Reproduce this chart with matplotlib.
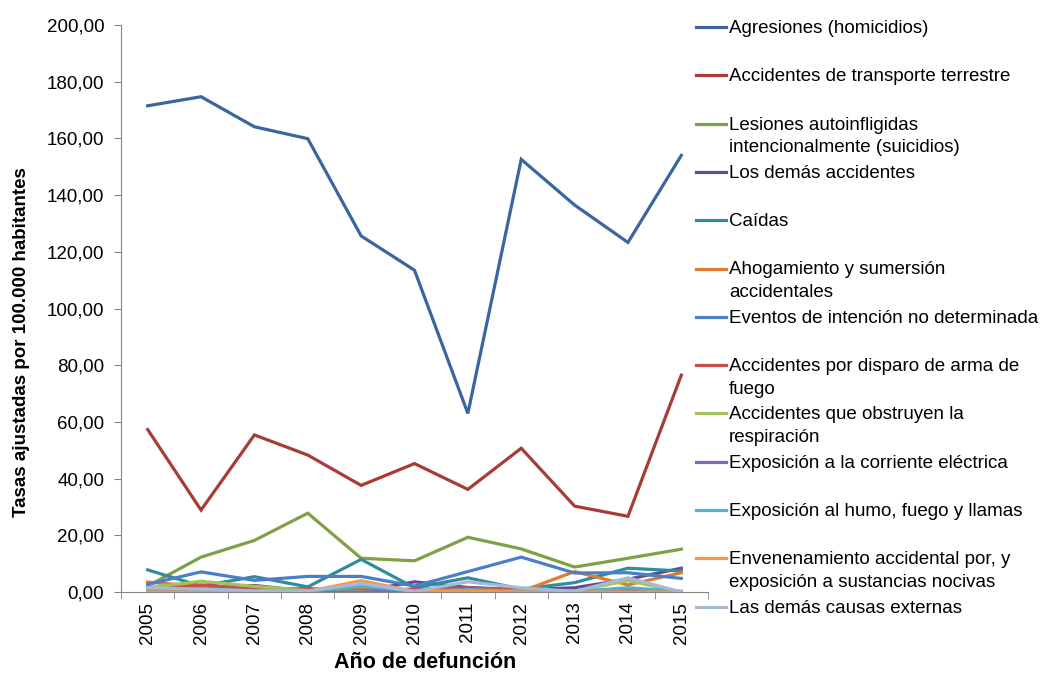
import matplotlib.pyplot as plt
import numpy as np
from matplotlib.lines import Line2D

years = ["2005", "2006", "2007", "2008", "2009", "2010", "2011", "2012", "2013", "2014", "2015"]

agresiones = [171.5, 174.7, 164.1, 159.9, 125.6, 113.5, 63.0, 152.6, 136.5, 123.3, 154.0]
transporte = [57.3, 28.9, 55.4, 48.3, 37.6, 45.3, 36.2, 50.7, 30.3, 26.7, 76.5]
suicidios = [2.1, 12.3, 18.2, 27.8, 11.9, 11.0, 19.3, 15.2, 8.8, 11.9, 15.1]
demas_acc = [1.5, 1.5, 2.3, 0.3, 0.2, 3.6, 1.6, 0.8, 1.5, 4.5, 8.4]
caidas = [7.8, 2.1, 5.4, 1.8, 11.5, 1.5, 5.0, 1.0, 3.3, 8.4, 7.4]
ahogamiento = [3.5, 2.0, 1.5, 0.5, 1.0, 0.3, 1.2, 0.2, 7.2, 2.5, 6.8]
eventos = [2.7, 7.1, 4.1, 5.5, 5.5, 2.1, 7.2, 12.3, 6.7, 6.8, 4.8]
disparo = [0.5, 2.5, 1.0, 1.2, 0.5, 1.0, 1.5, 0.6, 0.3, 0.5, 0.2]
obstruyen = [1.5, 3.8, 2.0, 0.5, 0.2, 0.0, 0.5, 0.5, 0.3, 4.0, 0.0]
corriente = [0.8, 0.5, 0.3, 0.0, 0.0, 0.5, 0.6, 0.3, 0.1, 0.4, 0.0]
humo = [0.6, 1.0, 0.4, 0.3, 2.0, 0.3, 0.8, 0.4, 0.2, 1.5, 0.2]
envenenamiento = [0.0, 0.0, 0.0, 0.2, 4.0, 0.2, 0.3, 0.0, 0.0, 0.0, 0.0]
las_demas = [1.5, 1.0, 0.4, 0.3, 3.0, 0.2, 3.6, 1.5, 0.2, 5.0, 0.0]

labels = [
    "Agresiones (homicidios)",
    "Accidentes de transporte terrestre",
    "Lesiones autoinfligidas\nintencionalmente (suicidios)",
    "Los demás accidentes",
    "Caídas",
    "Ahogamiento y sumersión\naccidentales",
    "Eventos de intención no determinada",
    "Accidentes por disparo de arma de\nfuego",
    "Accidentes que obstruyen la\nrespiración",
    "Exposición a la corriente eléctrica",
    "Exposición al humo, fuego y llamas",
    "Envenenamiento accidental por, y\nexposición a sustancias nocivas",
    "Las demás causas externas",
]
series = [agresiones, transporte, suicidios, demas_acc, caidas, ahogamiento,
          eventos, disparo, obstruyen, corriente, humo, envenenamiento, las_demas]
colors = ["#3A66A0", "#A83B38", "#80A046", "#614C8A", "#2F8CA0", "#E07B30",
          "#4A7FC8", "#C8504C", "#A2C35A", "#8468AB", "#4DB3CE", "#F99645", "#A6BAD8"]

yticks = [0, 20, 40, 60, 80, 100, 120, 140, 160, 180, 200]
ytick_labels = ["0,00", "20,00", "40,00", "60,00", "80,00", "100,00",
                "120,00", "140,00", "160,00", "180,00", "200,00"]

plt.rcParams["font.family"] = ["Liberation Sans", "DejaVu Sans"]

W, H = 1043, 675
fig = plt.figure(figsize=(W / 100, H / 100), dpi=100)
ax = fig.add_axes([121 / W, 1 - 592 / H, (708 - 121) / W, (592 - 25) / H])

x = np.arange(len(years))
for vals, c in zip(series, colors):
    ax.plot(x, vals, color=c, lw=2.3, solid_joinstyle="miter")

ax.set_xlim(-0.5, len(years) - 0.5)
ax.set_ylim(0, 200)
ax.set_yticks(yticks)
ax.set_yticklabels(ytick_labels, fontsize=13.5)
ax.set_xticks(x)
ax.set_xticklabels(years, rotation=90, fontsize=13.5)
ax.set_xticks(np.arange(-0.5, len(years)), minor=True)
ax.tick_params(axis="x", which="major", length=0, pad=7)
ax.tick_params(axis="x", which="minor", length=5, color="#868686")
ax.tick_params(axis="y", length=5, color="#868686", pad=7)

for s in ["top", "right"]:
    ax.spines[s].set_visible(False)
for s in ["left", "bottom"]:
    ax.spines[s].set_color("#868686")

fig.text(22 / W, 1 - 342 / H, "Tasas ajustadas por 100.000 habitantes",
         rotation=90, ha="center", va="center", fontsize=13.5,
         fontweight="bold")
fig.text(425 / W, 1 - 662 / H, "Año de defunción", ha="center", va="center",
         fontsize=15.5, fontweight="bold")

# legend drawn by hand, one slot per series
for i, (lab, c) in enumerate(zip(labels, colors)):
    yc = 1 - (27 + 48.3 * i) / H
    fig.add_artist(Line2D([696 / W, 726 / W], [yc, yc], color=c, lw=2.3,
                          transform=fig.transFigure))
    fig.text(729 / W, yc + 7 / H, lab, ha="left", va="top", fontsize=13.5,
             linespacing=1.45)

fig.savefig("out.png", dpi=100)
